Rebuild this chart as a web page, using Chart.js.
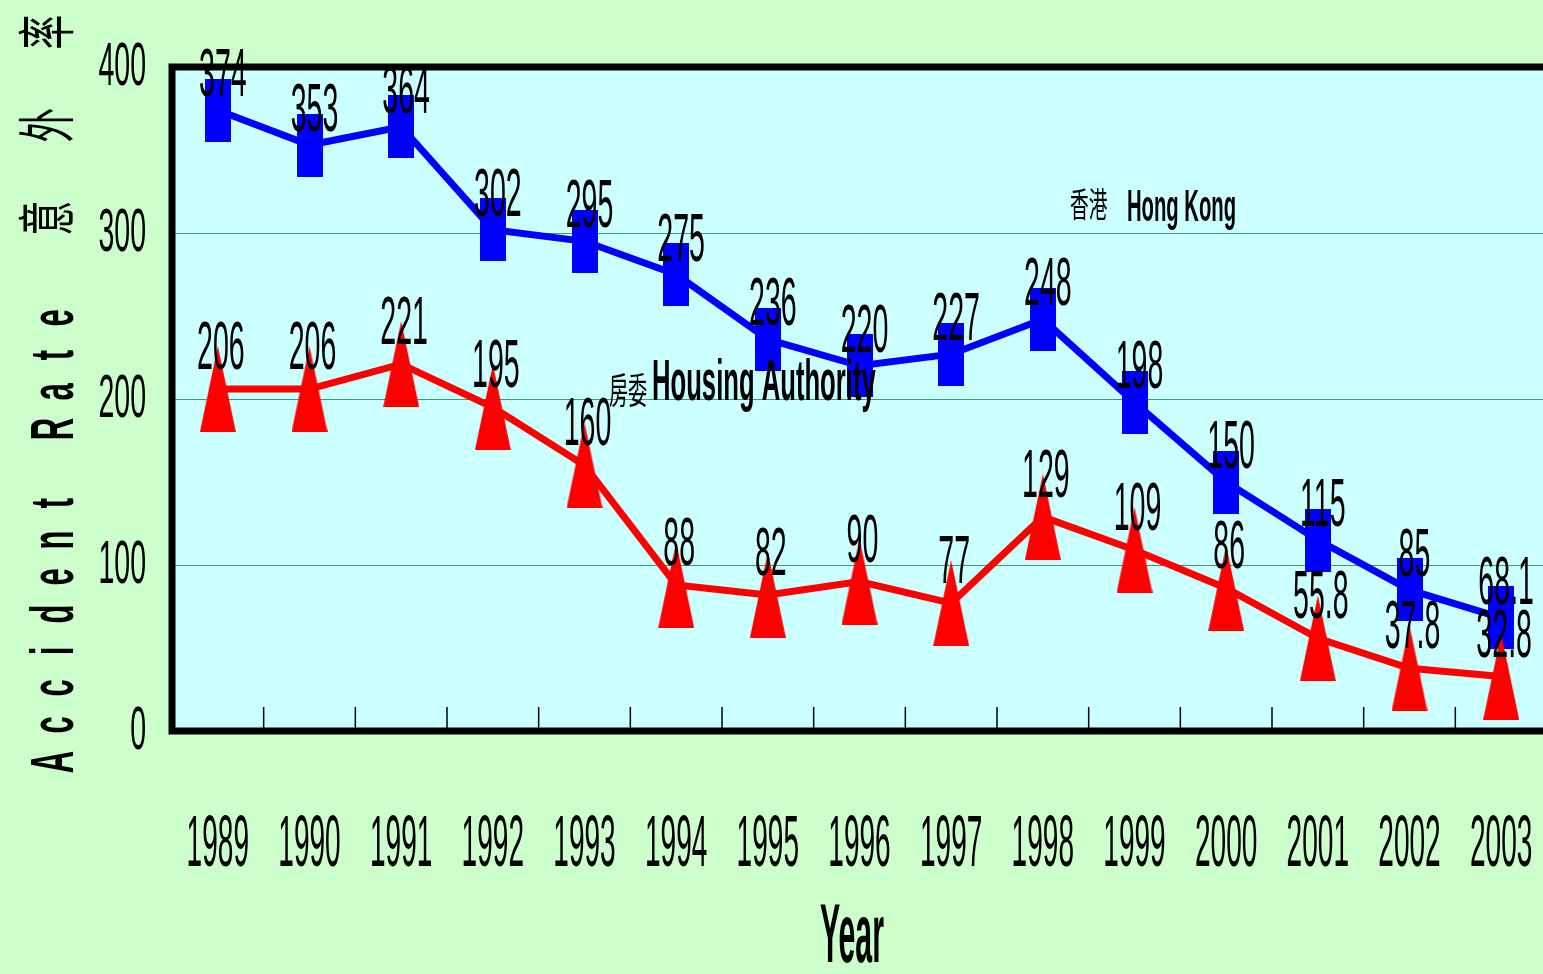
<!DOCTYPE html>
<html>
<head>
<meta charset="utf-8">
<script src="https://cdn.jsdelivr.net/npm/chart.js@4/dist/chart.umd.min.js"></script>
<style>
  html, body { margin: 0; padding: 0; background: #ccffcc; overflow: hidden; }
  #wrap { width: 1543px; height: 974px; overflow: hidden; }
</style>
</head>
<body>
<div id="wrap"><canvas id="chart" width="1574" height="974"></canvas></div>
<script>
var years = ['1989','1990','1991','1992','1993','1994','1995','1996','1997','1998','1999','2000','2001','2002','2003'];
var hongKong = [374, 353, 364, 302, 295, 275, 236, 220, 227, 248, 198, 150, 115, 85, 68.1];
var housingAuthority = [206, 206, 221, 195, 160, 88, 82, 90, 77, 129, 109, 86, 55.8, 37.8, 32.8];
var yTicks = [0, 100, 200, 300, 400];

// marker images (tall rectangles / tall triangles like the original)
function makeRect() {
    var c = document.createElement('canvas');
    c.width = 26; c.height = 63;
    var g = c.getContext('2d');
    g.fillStyle = '#0000ff';
    g.fillRect(0, 0, 26, 63);
    return c;
}
function makeTri() {
    var c = document.createElement('canvas');
    c.width = 36; c.height = 86;
    var g = c.getContext('2d');
    g.fillStyle = '#ff0000';
    g.beginPath();
    g.moveTo(18, 0);
    g.lineTo(36, 86);
    g.lineTo(0, 86);
    g.closePath();
    g.fill();
    return c;
}

// condensed text helper
function txt(ctx, s, x, y, size, sx, align, weight, family) {
    ctx.save();
    ctx.translate(x, y);
    ctx.scale(sx, 1);
    ctx.font = (weight || 'normal') + ' ' + size + 'px ' + (family || '"Liberation Sans", Arial, sans-serif');
    ctx.textAlign = align || 'center';
    ctx.textBaseline = 'alphabetic';
    ctx.fillStyle = '#000';
    ctx.fillText(s, 0, 0);
    ctx.restore();
}

var decor = {
    id: 'decor',
    beforeDraw: function(chart) {
        var a = chart.chartArea, ctx = chart.ctx;
        ctx.save();
        ctx.fillStyle = '#ccffff';
        ctx.fillRect(a.left, a.top, a.right - a.left, a.bottom - a.top);
        ctx.restore();
    },
    beforeDatasetsDraw: function(chart) {
        var a = chart.chartArea, ctx = chart.ctx, xs = chart.scales.x;
        ctx.save();
        // tick marks between categories
        ctx.strokeStyle = '#000';
        ctx.lineWidth = 1.5;
        for (var i = 0; i < years.length - 1; i++) {
            var px = (xs.getPixelForValue(i) + xs.getPixelForValue(i + 1)) / 2;
            ctx.beginPath();
            ctx.moveTo(px, a.bottom);
            ctx.lineTo(px, a.bottom - 24);
            ctx.stroke();
        }
        // thick frame (top, left, bottom)
        ctx.lineWidth = 7;
        ctx.beginPath();
        ctx.moveTo(a.right + 30, a.top);
        ctx.lineTo(a.left, a.top);
        ctx.lineTo(a.left, a.bottom);
        ctx.lineTo(a.right + 30, a.bottom);
        ctx.stroke();
        ctx.restore();
    },
    afterDatasetsDraw: function(chart) {
        var ctx = chart.ctx, xs = chart.scales.x, ys = chart.scales.y;
        // y tick labels
        yTicks.forEach(function(v) {
            txt(ctx, String(v), 146, ys.getPixelForValue(v) + 18, 62, 0.46, 'right');
        });
        // year labels
        years.forEach(function(y, i) {
            txt(ctx, y, xs.getPixelForValue(i), 866, 72, 0.39, 'center');
        });
        txt(ctx, 'Year', 852, 962, 84, 0.36, 'center', 'bold');

        // value labels
        hongKong.forEach(function(v, i) {
            txt(ctx, String(v), xs.getPixelForValue(i) + 5, ys.getPixelForValue(v) - 14, 68, 0.42, 'center');
        });
        housingAuthority.forEach(function(v, i) {
            txt(ctx, String(v), xs.getPixelForValue(i) + 3, ys.getPixelForValue(v) - 20, 68, 0.42, 'center');
        });

        // series annotations
        txt(ctx, '香港', 1070, 217, 34, 0.55, 'left', 'normal', '"Noto Sans CJK TC", sans-serif');
        txt(ctx, 'Hong Kong', 1127, 221, 45, 0.45, 'left', 'bold');
        txt(ctx, '房委', 609, 404, 36, 0.53, 'left', 'normal', '"Noto Sans CJK TC", sans-serif');
        txt(ctx, 'Housing Authority', 652, 400, 57, 0.45, 'left', 'bold');

        // rotated y-axis title
        var eng = 'Accident Rate';
        for (var k = 0; k < eng.length; k++) {
            if (eng[k] === ' ') continue;
            ctx.save();
            ctx.translate(73, 762 - k * 37);
            ctx.rotate(-Math.PI / 2);
            txt(ctx, eng[k], 0, 0, 62, 0.5, 'center', 'bold');
            ctx.restore();
        }
        var zh = ['意', '外', '率'];
        var zy = [218, 125, 32];
        zh.forEach(function(ch, k) {
            ctx.save();
            ctx.translate(68, zy[k]);
            ctx.rotate(-Math.PI / 2);
            txt(ctx, ch, 0, 0, 58, 0.6, 'center', 'normal', '"Noto Sans CJK TC", sans-serif');
            ctx.restore();
        });
    }
};

var chart = new Chart(document.getElementById('chart'), {
    type: 'line',
    data: {
        labels: years,
        datasets: [
            {
                label: '房委 Housing Authority',
                data: housingAuthority,
                borderColor: '#ff0000',
                borderWidth: 7,
                pointStyle: makeTri(),
                pointRadius: 20,
                tension: 0,
                clip: false
            },
            {
                label: '香港 Hong Kong',
                data: hongKong,
                borderColor: '#0000ff',
                borderWidth: 7,
                pointStyle: makeRect(),
                pointRadius: 20,
                tension: 0,
                clip: false
            }
        ]
    },
    options: {
        responsive: false,
        animation: false,
        layout: { padding: { top: 67, left: 0, right: 0, bottom: 0 } },
        plugins: {
            legend: { display: false },
            tooltip: { enabled: false },
            title: { display: false }
        },
        scales: {
            x: {
                offset: true,
                grid: { display: false },
                border: { display: false },
                ticks: { display: false },
                afterFit: function(s) { s.height = 974 - 731; }
            },
            y: {
                min: 0,
                max: 400,
                ticks: { display: false, stepSize: 100 },
                grid: { color: '#3f9a6a', lineWidth: 1, drawTicks: false },
                border: { display: false },
                afterFit: function(s) { s.width = 172; }
            }
        }
    },
    plugins: [decor]
});
</script>
</body>
</html>
